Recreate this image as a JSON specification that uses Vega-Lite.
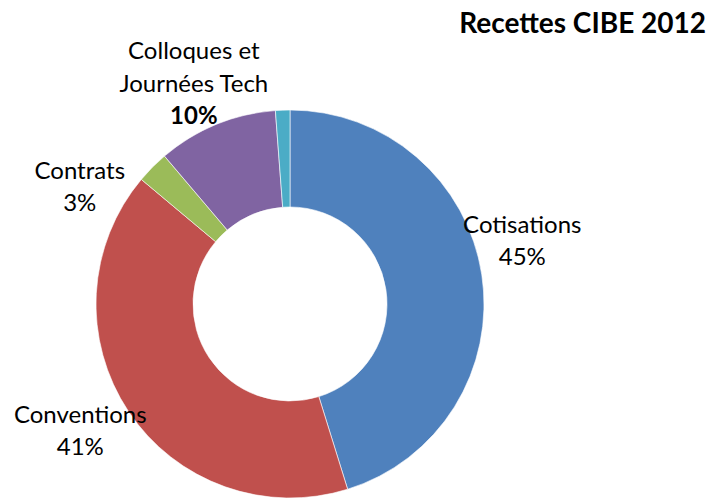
{
  "$schema": "https://vega.github.io/schema/vega-lite/v6.json",
  "autosize": {"type": "none"},
  "width": 400,
  "height": 388,
  "padding": {"left": 90, "top": 110, "right": 221, "bottom": 0},
  "background": "white",
  "title": {
    "text": "Recettes CIBE 2012",
    "anchor": "end",
    "frame": "group",
    "dx": 216,
    "dy": 33,
    "font": "Lato",
    "fontSize": 28,
    "fontWeight": "bold",
    "color": "#000000"
  },
  "data": {
    "values": [
      {"rang": 1, "cat": "Cotisations", "nom": "Cotisations", "pct": "45%", "valeur": 45.2},
      {"rang": 2, "cat": "Conventions", "nom": "Conventions", "pct": "41%", "valeur": 40.9},
      {"rang": 3, "cat": "Contrats", "nom": "Contrats", "pct": "3%", "valeur": 2.7},
      {"rang": 4, "cat": "Colloques", "nom": "Colloques et\nJournées Tech", "pct": "10%", "valeur": 10.0},
      {"rang": 5, "cat": "Autres", "nom": "", "pct": "", "valeur": 1.2}
    ]
  },
  "encoding": {
    "theta": {"field": "valeur", "type": "quantitative", "stack": true},
    "order": {"field": "rang", "type": "quantitative"}
  },
  "layer": [
    {
      "mark": {"type": "arc", "innerRadius": 97, "outerRadius": 194, "stroke": "white", "strokeWidth": 0.6},
      "encoding": {
        "color": {
          "field": "cat",
          "type": "nominal",
          "scale": {
            "domain": ["Cotisations", "Conventions", "Contrats", "Colloques", "Autres"],
            "range": ["#4F81BD", "#C0504D", "#9BBB59", "#8064A2", "#4BACC6"]
          },
          "legend": null
        }
      }
    },
    {
      "mark": {"type": "text", "radius": 240, "dx": -5, "dy": -42, "font": "Lato", "fontSize": 24, "align": "center", "baseline": "middle", "color": "#000000"},
      "encoding": {"text": {"condition": {"test": "datum.cat === 'Cotisations'", "field": "nom"}, "value": ""}}
    },
    {
      "mark": {"type": "text", "radius": 240, "dx": -5, "dy": -10, "font": "Lato", "fontSize": 24, "align": "center", "baseline": "middle", "color": "#000000"},
      "encoding": {"text": {"condition": {"test": "datum.cat === 'Cotisations'", "field": "pct"}, "value": ""}}
    },
    {
      "mark": {"type": "text", "radius": 240, "dx": -10, "dy": -21, "font": "Lato", "fontSize": 24, "align": "center", "baseline": "middle", "color": "#000000"},
      "encoding": {"text": {"condition": {"test": "datum.cat === 'Conventions'", "field": "nom"}, "value": ""}}
    },
    {
      "mark": {"type": "text", "radius": 240, "dx": -10, "dy": 11, "font": "Lato", "fontSize": 24, "align": "center", "baseline": "middle", "color": "#000000"},
      "encoding": {"text": {"condition": {"test": "datum.cat === 'Conventions'", "field": "pct"}, "value": ""}}
    },
    {
      "mark": {"type": "text", "radius": 240, "dx": -40, "dy": 37, "font": "Lato", "fontSize": 24, "align": "center", "baseline": "middle", "color": "#000000"},
      "encoding": {"text": {"condition": {"test": "datum.cat === 'Contrats'", "field": "nom"}, "value": ""}}
    },
    {
      "mark": {"type": "text", "radius": 240, "dx": -40, "dy": 69, "font": "Lato", "fontSize": 24, "align": "center", "baseline": "middle", "color": "#000000"},
      "encoding": {"text": {"condition": {"test": "datum.cat === 'Contrats'", "field": "pct"}, "value": ""}}
    },
    {
      "mark": {"type": "text", "radius": 240, "dx": -5, "dy": -30, "font": "Lato", "fontSize": 24, "lineBreak": "\n", "lineHeight": 33, "align": "center", "baseline": "middle", "color": "#000000"},
      "encoding": {"text": {"condition": {"test": "datum.cat === 'Colloques'", "field": "nom"}, "value": ""}}
    },
    {
      "mark": {"type": "text", "radius": 240, "dx": -5, "dy": 35, "font": "Lato", "fontSize": 24, "fontWeight": "bold", "align": "center", "baseline": "middle", "color": "#000000"},
      "encoding": {"text": {"condition": {"test": "datum.cat === 'Colloques'", "field": "pct"}, "value": ""}}
    }
  ]
}
